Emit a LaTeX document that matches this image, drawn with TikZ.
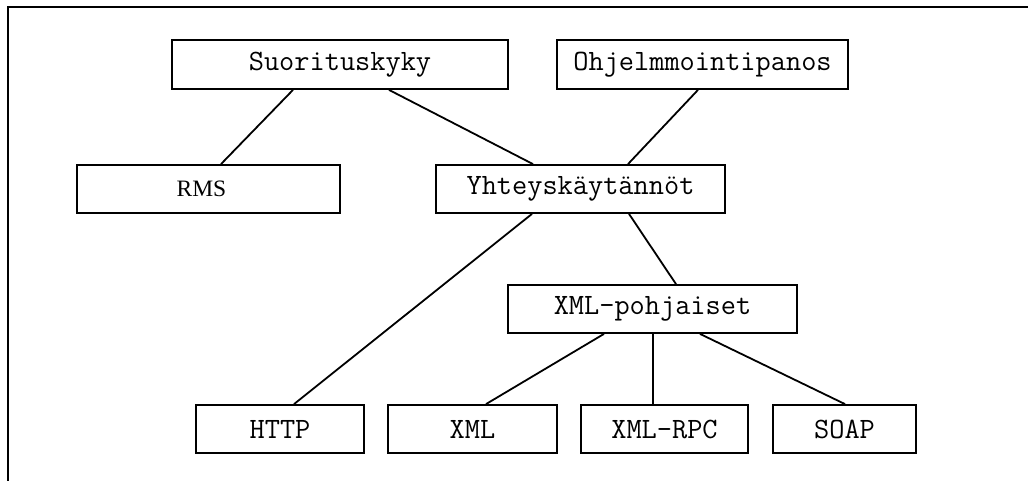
\documentclass[tikz,border=0pt]{standalone}
\usepackage{fontspec}
\newfontfamily\romanfont{Liberation Serif}
\begin{document}
\begin{tikzpicture}[x=1pt,y=-1pt,
  box/.style={draw=black, line width=1.8pt, rectangle, inner sep=0pt,
    minimum height=48pt, font=\ttfamily\fontsize{29.5}{32}\selectfont},
  link/.style={draw=black, line width=1.8pt}]
  \useasboundingbox (0,0) rectangle (1028,481);
  % outer frame: only the top and left edges are drawn
  \coordinate (fa) at (1028,7.5);
  \coordinate (fb) at (7.5,7.5);
  \coordinate (fc) at (7.5,481);
  \draw[link, line width=2pt] (fa) -- (fb) -- (fc);

  % boxes
  \node[box, minimum width=336pt, minimum height=49pt] (suor) at (340,64.5) {Suorituskyky};
  \node[box, minimum width=291pt, minimum height=49pt] (ohj)  at (702.5,64.5) {Ohjelmmointipanos};
  \node[box, minimum width=263pt, font=\romanfont\fontsize{23.5}{26}\selectfont] (rms) at (208.5,189) {\hspace*{-14pt}RMS};
  \node[box, minimum width=289pt] (yht)  at (580.5,189) {Yhteyskäytännöt};
  \node[box, minimum width=289pt] (xmlp) at (652.5,309) {XML-pohjaiset};
  \node[box, minimum width=168pt] (http) at (280,429) {HTTP};
  \node[box, minimum width=169pt] (xml)  at (472.5,429) {XML};
  \node[box, minimum width=167pt] (rpc)  at (664.5,429) {XML-RPC};
  \node[box, minimum width=143pt] (soap) at (844.5,429) {SOAP};

  % connectors
  \draw[link] ([xshift=-47pt]suor.south) -- ([xshift=12.5pt]rms.north);
  \draw[link] ([xshift=49pt]suor.south) -- ([xshift=-47.5pt]yht.north);
  \draw[link] ([xshift=-4.5pt]ohj.south) -- ([xshift=47.5pt]yht.north);
  \draw[link] ([xshift=-48.5pt]yht.south) -- ([xshift=14pt]http.north);
  \draw[link] ([xshift=48.5pt]yht.south) -- ([xshift=23.5pt]xmlp.north);
  \draw[link] ([xshift=-48.5pt]xmlp.south) -- ([xshift=13.5pt]xml.north);
  \draw[link] ([xshift=0.5pt]xmlp.south) -- ([xshift=-11.5pt]rpc.north);
  \draw[link] ([xshift=47.5pt]xmlp.south) -- ([xshift=0.5pt]soap.north);
\end{tikzpicture}
\end{document}
